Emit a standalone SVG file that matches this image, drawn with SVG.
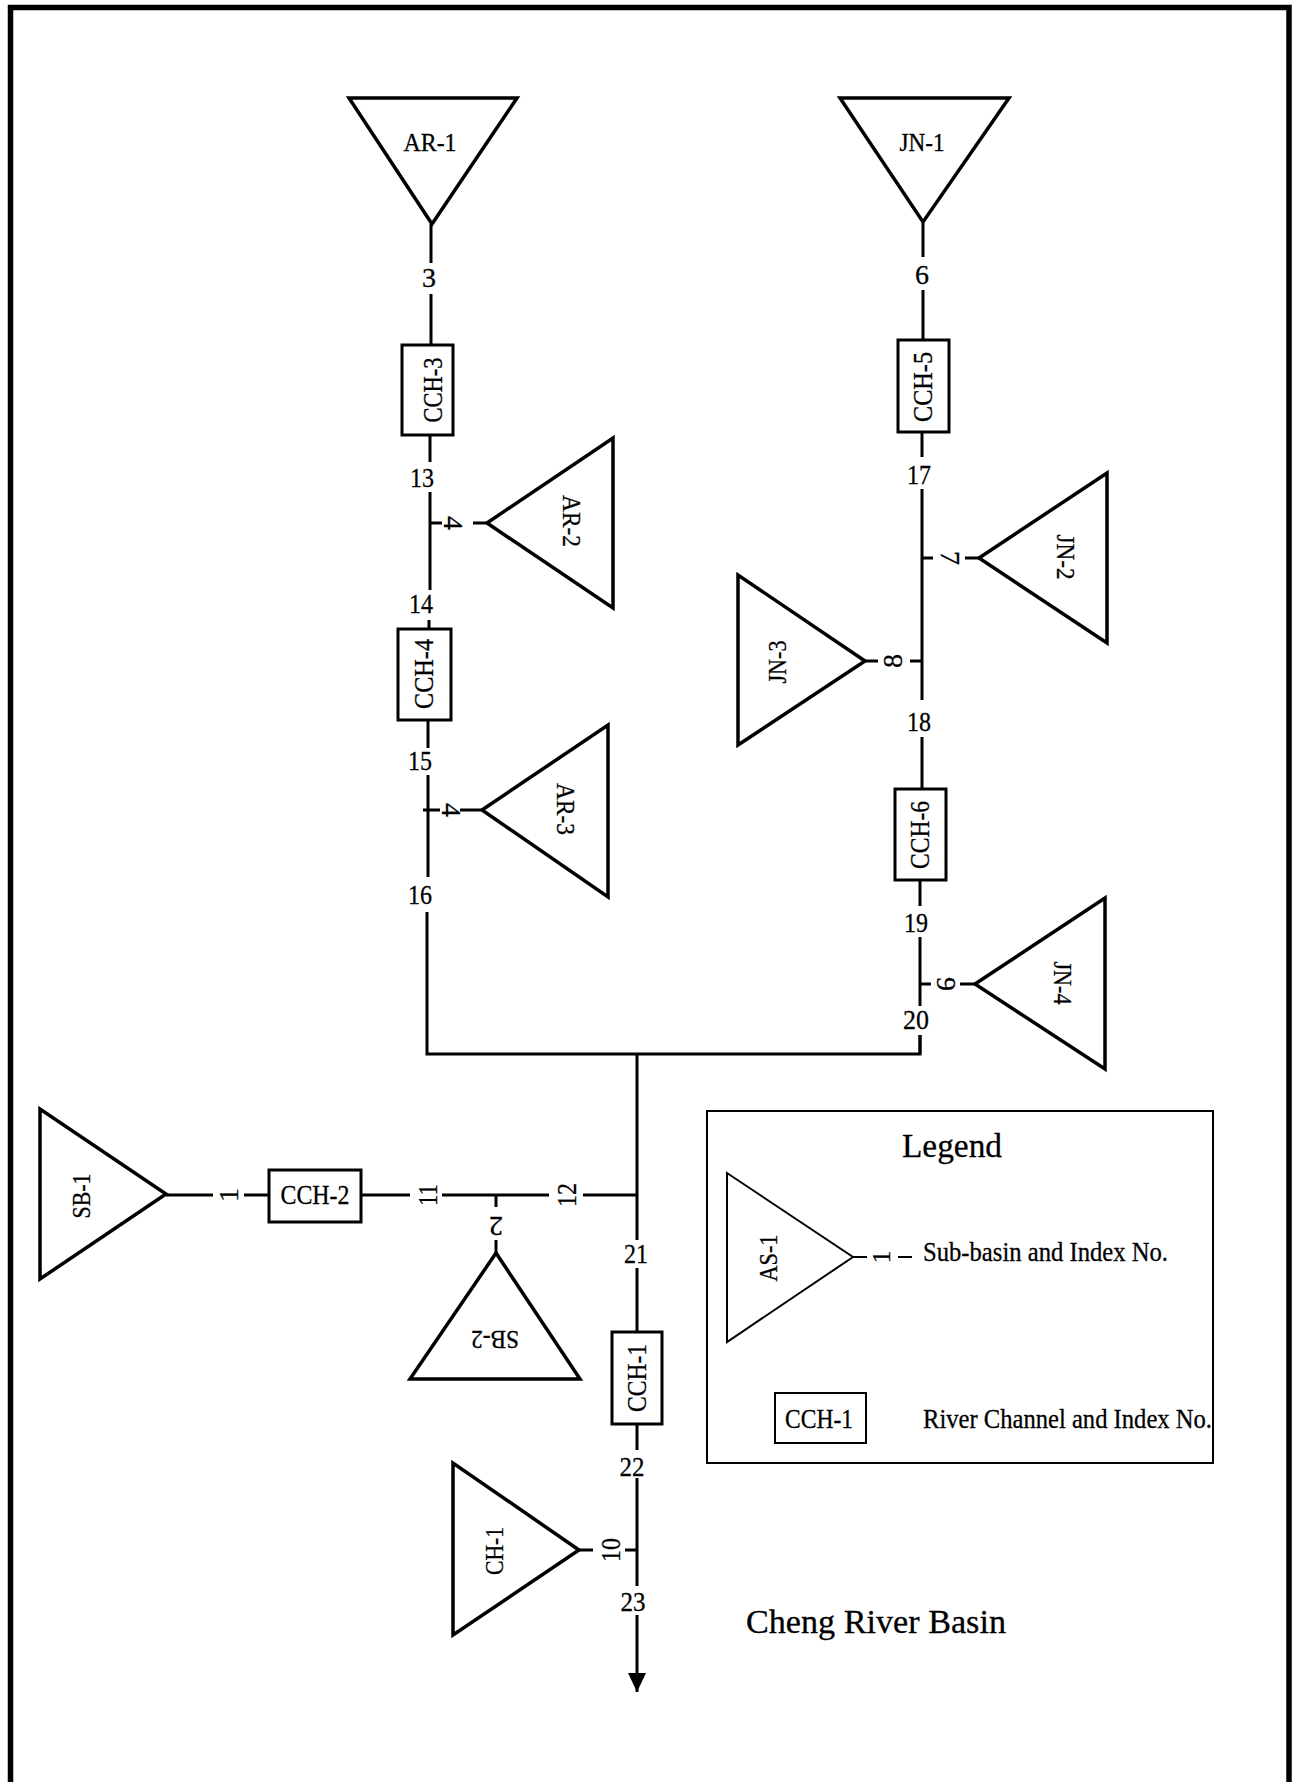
<svg xmlns="http://www.w3.org/2000/svg" width="1297" height="1782" viewBox="0 0 1297 1782">
<defs>
<style>
.tri{fill:none;stroke:#000;stroke-width:3.5;stroke-linejoin:miter}
.box{fill:#fff;stroke:#000;stroke-width:3}
.ln{stroke:#000;stroke-width:3;fill:none}
.thin{stroke:#000;stroke-width:2;fill:none}
.t{font-family:"Liberation Serif","Times New Roman",serif;fill:#000;text-anchor:middle;stroke:#000;stroke-width:0.3}
.lab{font-size:25px}
.cch{font-size:27px}
.idx{font-size:28px}
.big{font-size:34px}
.leg{font-size:28px;text-anchor:start}
</style>
<marker id="arr" markerWidth="20" markerHeight="20" refX="19" refY="9" orient="auto" markerUnits="userSpaceOnUse">
<path d="M0,0 L19,9 L0,18 Z" fill="#000"/>
</marker>
</defs>
<rect width="1297" height="1782" fill="#fff"/>
<path d="M10.5,1790 V7.5 H1289 V1790" fill="none" stroke="#000" stroke-width="5.5"/>

<g id="connectors">
<path class="ln" d="M431,224 V263 M431,294 V345 M430,435 V462 M430,492 V590 M430,523 H442 M473,523 H487 M429,620 V629 M428,720 V748 M428,775 V877 M423,810 H440 M460,810 H482 M427,912 V1054 H920 V1035"/>
<path class="ln" d="M923,222 V257 M923,290 V340 M922,432 V457 M922,489 V700 M922,558 H933 M965,558 H979 M865,661 H878 M910,661 H922 M922,737 V789 M920,880 V906 M920,937 V1006 M920,984 H931 M960,984 H975 M920,1035 V1054"/>
<path class="ln" d="M637,1054 V1240 M637,1268 V1332 M637,1424 V1450 M637,1478 V1586 M579,1550 H593 M625,1550 H637"/>
<line class="ln" x1="637" y1="1615" x2="637" y2="1692" marker-end="url(#arr)"/>
<path class="ln" d="M166,1195 H213 M244,1195 H269 M361,1195 H410 M442,1195 H549 M583,1195 H637 M496,1195 V1207 M496,1240 V1253"/>
<text class="t idx" x="429" y="287">3</text>
<text class="t idx" x="922" y="284">6</text>
<text class="t idx" x="422" y="487" textLength="24" lengthAdjust="spacingAndGlyphs">13</text>
<text class="t idx" x="421" y="613" textLength="24" lengthAdjust="spacingAndGlyphs">14</text>
<text class="t idx" x="420" y="770" textLength="24" lengthAdjust="spacingAndGlyphs">15</text>
<text class="t idx" x="420" y="904" textLength="24" lengthAdjust="spacingAndGlyphs">16</text>
<text class="t idx" x="919" y="484" textLength="24" lengthAdjust="spacingAndGlyphs">17</text>
<text class="t idx" x="919" y="731" textLength="24" lengthAdjust="spacingAndGlyphs">18</text>
<text class="t idx" x="916" y="932" textLength="24" lengthAdjust="spacingAndGlyphs">19</text>
<text class="t idx" x="916" y="1029" textLength="26" lengthAdjust="spacingAndGlyphs">20</text>
<text class="t idx" x="636" y="1263" textLength="24" lengthAdjust="spacingAndGlyphs">21</text>
<text class="t idx" x="632" y="1476" textLength="25" lengthAdjust="spacingAndGlyphs">22</text>
<text class="t idx" x="633" y="1611" textLength="25" lengthAdjust="spacingAndGlyphs">23</text>
<text class="t idx" transform="translate(453,523) rotate(90)" y="9.5">4</text>
<text class="t idx" transform="translate(451,810) rotate(90)" y="9.5">4</text>
<text class="t idx" transform="translate(950,558) rotate(90)" y="9.5">7</text>
<text class="t idx" transform="translate(892,661) rotate(-90)" y="9.5">8</text>
<text class="t idx" transform="translate(946,984) rotate(90)" y="9.5">9</text>
<text class="t idx" transform="translate(228,1195) rotate(-90)" y="9.5">1</text>
<text class="t idx" transform="translate(427,1195) rotate(-90)" y="9.5" textLength="22" lengthAdjust="spacingAndGlyphs">11</text>
<text class="t idx" transform="translate(566,1195) rotate(-90)" y="9.5" textLength="24" lengthAdjust="spacingAndGlyphs">12</text>
<text class="t idx" transform="translate(496,1226) rotate(180)" y="9.5">2</text>
<text class="t idx" transform="translate(610,1550) rotate(-90)" y="9.5" textLength="24" lengthAdjust="spacingAndGlyphs">10</text>
</g>

<g id="AR-1"><polygon class="tri" points="349,98 517,98 432,224"/><text class="t lab" x="430" y="151" textLength="53" lengthAdjust="spacingAndGlyphs">AR-1</text></g>
<g id="JN-1"><polygon class="tri" points="840,98 1009,98 923,222"/><text class="t lab" x="922" y="151" textLength="45" lengthAdjust="spacingAndGlyphs">JN-1</text></g>
<g id="CCH-3"><rect class="box" x="402" y="345" width="51" height="90"/><text class="t cch" transform="translate(433,390) rotate(-90)" y="9" textLength="65" lengthAdjust="spacingAndGlyphs">CCH-3</text></g>
<g id="CCH-5"><rect class="box" x="898" y="340" width="51" height="92"/><text class="t cch" transform="translate(923,387) rotate(-90)" y="9" textLength="70" lengthAdjust="spacingAndGlyphs">CCH-5</text></g>
<g id="AR-2"><polygon class="tri" points="487,523 613,438 613,608"/><text class="t lab" transform="translate(571,521) rotate(90)" y="8.3" textLength="52" lengthAdjust="spacingAndGlyphs">AR-2</text></g>
<g id="CCH-4"><rect class="box" x="398" y="629" width="53" height="91"/><text class="t cch" transform="translate(424,674) rotate(-90)" y="9" textLength="70" lengthAdjust="spacingAndGlyphs">CCH-4</text></g>
<g id="AR-3"><polygon class="tri" points="482,810 608,725 608,897"/><text class="t lab" transform="translate(565,809) rotate(90)" y="8.3" textLength="52" lengthAdjust="spacingAndGlyphs">AR-3</text></g>
<g id="JN-2"><polygon class="tri" points="979,558 1107,473 1107,643"/><text class="t lab" transform="translate(1065,557) rotate(90)" y="8.3" textLength="45" lengthAdjust="spacingAndGlyphs">JN-2</text></g>
<g id="JN-3"><polygon class="tri" points="865,661 738,575 738,745"/><text class="t lab" transform="translate(778,662) rotate(-90)" y="8.3" textLength="43" lengthAdjust="spacingAndGlyphs">JN-3</text></g>
<g id="CCH-6"><rect class="box" x="895" y="789" width="51" height="91"/><text class="t cch" transform="translate(920,835) rotate(-90)" y="9" textLength="68" lengthAdjust="spacingAndGlyphs">CCH-6</text></g>
<g id="JN-4"><polygon class="tri" points="975,984 1105,898 1105,1069"/><text class="t lab" transform="translate(1062,983) rotate(90)" y="8.3" textLength="43" lengthAdjust="spacingAndGlyphs">JN-4</text></g>
<g id="SB-1"><polygon class="tri" points="40,1109 40,1279 166,1194"/><text class="t lab" transform="translate(82,1196) rotate(-90)" y="8.3" textLength="45" lengthAdjust="spacingAndGlyphs">SB-1</text></g>
<g id="CCH-2"><rect class="box" x="269" y="1170" width="92" height="52"/><text class="t cch" x="315" y="1204" textLength="69" lengthAdjust="spacingAndGlyphs">CCH-2</text></g>
<g id="SB-2"><polygon class="tri" points="496,1253 410,1379 580,1379"/><text class="t lab" transform="translate(495,1339) rotate(180)" y="8.3" textLength="48" lengthAdjust="spacingAndGlyphs">SB-2</text></g>
<g id="CCH-1"><rect class="box" x="612" y="1332" width="50" height="92"/><text class="t cch" transform="translate(637,1378) rotate(-90)" y="9" textLength="68" lengthAdjust="spacingAndGlyphs">CCH-1</text></g>
<g id="CH-1"><polygon class="tri" points="453,1463 453,1635 579,1550"/><text class="t lab" transform="translate(495,1551) rotate(-90)" y="8.3" textLength="48" lengthAdjust="spacingAndGlyphs">CH-1</text></g>

<g id="legend">
<rect x="707" y="1111" width="506" height="352" fill="none" stroke="#000" stroke-width="2"/>
<text class="t big" x="952" y="1157" textLength="100" lengthAdjust="spacingAndGlyphs">Legend</text>
<polygon class="thin" points="727,1173 727,1342 853,1257"/>
<text class="t lab" transform="translate(769,1258) rotate(-90)" y="8.3" textLength="47" lengthAdjust="spacingAndGlyphs">AS-1</text>
<path class="thin" d="M853,1257 H867 M898,1257 H912"/>
<text class="t idx" transform="translate(881,1257) rotate(-90)" y="8.5" style="font-size:25px">1</text>
<text class="t leg" x="923" y="1261" textLength="245" lengthAdjust="spacingAndGlyphs">Sub-basin and Index No.</text>
<rect x="775" y="1393" width="91" height="50" fill="none" stroke="#000" stroke-width="2"/>
<text class="t cch" x="819" y="1428" textLength="68" lengthAdjust="spacingAndGlyphs">CCH-1</text>
<text class="t leg" x="923" y="1428" textLength="289" lengthAdjust="spacingAndGlyphs">River Channel and Index No.</text>
</g>

<text id="title" class="t big" x="746" y="1633" style="text-anchor:start" textLength="260" lengthAdjust="spacingAndGlyphs">Cheng River Basin</text>
</svg>
